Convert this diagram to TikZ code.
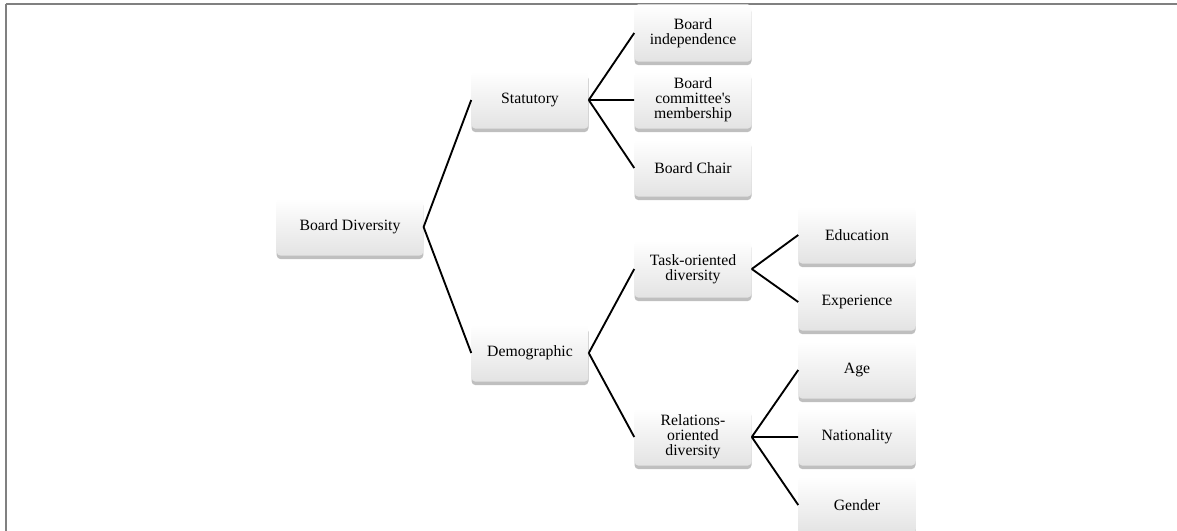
\documentclass[tikz,border=0pt]{standalone}
\usepackage{fontspec}
\setmainfont{Liberation Serif}
\usepackage{tikz}
\usetikzlibrary{shadows}

\begin{document}
\begin{tikzpicture}[x=0.75pt,y=-0.75pt,
box/.style={rounded corners=3pt,top color=white,bottom color=black!11,
  drop shadow={shadow xshift=0pt,shadow yshift=-2.6pt,opacity=0.25,fill=black},
  minimum width=87.75pt,minimum height=43pt,inner sep=2pt,align=center,
  font=\fontsize{11.8}{11.3}\selectfont},
link/.style={line width=1.4pt,black}]
\useasboundingbox(0,0)rectangle(1177,531);
\draw[line width=1.5pt,black!50](5.5,4)--(1177,4)(5.5,4)--(5.5,531);
\node[box,minimum width=110pt](bd)at(350,227){Board Diversity};
\node[box](stat)at(530,100){Statutory};
\node[box](demo)at(530,353){Demographic};
\node[box](indep)at(693,33){Board\\independence};
\node[box](comm)at(693,100){Board\\committee\textquotesingle s\\membership};
\node[box](chair)at(693,168){Board Chair};
\node[box](task)at(693,269){Task-oriented\\diversity};
\node[box](rel)at(693,437){Relations-\\oriented\\diversity};
\node[box](edu)at(857,235){Education};
\node[box](exp)at(857,302){Experience};
\node[box](age)at(857,370){Age};
\node[box](nat)at(857,437){Nationality};
\node[box](gen)at(857,505){Gender};
\draw[link](bd.east)--(stat.west)(bd.east)--(demo.west);
\draw[link](stat.east)--(indep.west)(stat.east)--(comm.west)(stat.east)--(chair.west);
\draw[link](demo.east)--(task.west)(demo.east)--(rel.west);
\draw[link](task.east)--(edu.west)(task.east)--(exp.west);
\draw[link](rel.east)--(age.west)(rel.east)--(nat.west)(rel.east)--(gen.west);
\end{tikzpicture}
\end{document}
